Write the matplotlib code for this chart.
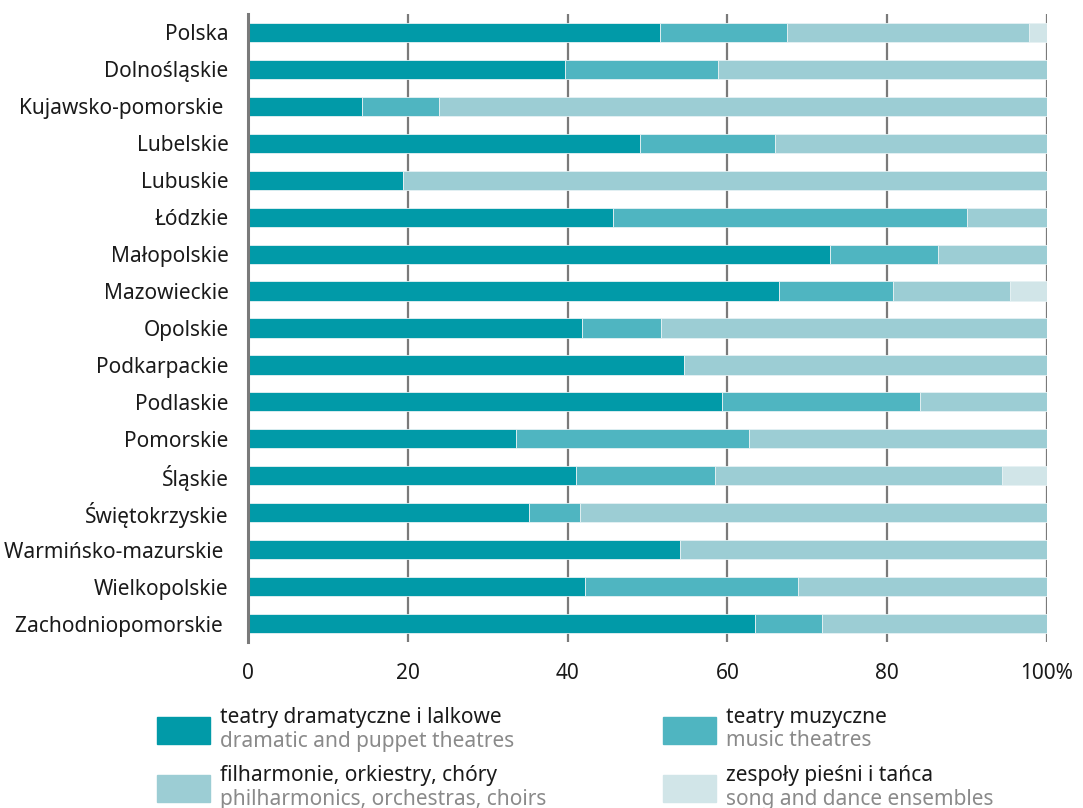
import matplotlib
matplotlib.use("Agg")
import matplotlib.pyplot as plt
from matplotlib.patches import Rectangle
import numpy as np

plt.rcParams['font.family'] = ['Noto Sans', 'DejaVu Sans']

regions = ["Polska", "Dolnośląskie", "Kujawsko-pomorskie ", "Lubelskie", "Lubuskie",
           "Łódzkie", "Małopolskie", "Mazowieckie", "Opolskie", "Podkarpackie",
           "Podlaskie", "Pomorskie", "Śląskie", "Świętokrzyskie",
           "Warmińsko-mazurskie ", "Wielkopolskie", "Zachodniopomorskie "]

dramatic = [51.6, 39.7, 14.3, 49.1, 19.4, 45.7, 72.8, 66.5, 41.8, 54.6,
            59.3, 33.5, 41.1, 35.2, 54.1, 42.2, 63.5]
music = [15.9, 19.1, 9.6, 16.9, 0.0, 44.3, 13.6, 14.2, 9.9, 0.0,
         24.8, 29.2, 17.3, 6.4, 0.0, 26.6, 8.3]
song = [2.3, 0.0, 0.0, 0.0, 0.0, 0.0, 0.0, 4.6, 0.0, 0.0,
        0.0, 0.0, 5.6, 0.0, 0.0, 0.0, 0.0]
philharmonic = [round(100 - d - m - s, 1) for d, m, s in zip(dramatic, music, song)]

series_pl = ["teatry dramatyczne i lalkowe", "teatry muzyczne",
             "filharmonie, orkiestry, chóry", "zespoły pieśni i tańca"]
series_en = ["dramatic and puppet theatres", "music theatres",
             "philharmonics, orchestras, choirs", "song and dance ensembles"]
colors = ["#019aa8", "#4fb5c1", "#9ccdd4", "#d1e5e8"]

xticks = [0, 20, 40, 60, 80, 100]
xtick_labels = ["0", "20", "40", "60", "80", "100%"]

FS = 15
fig = plt.figure(figsize=(10.83, 8.08), dpi=100)
ax = fig.add_axes([248 / 1083, 1 - 642 / 808, 799 / 1083, 628 / 808])

y = np.arange(len(regions))
left = np.zeros(len(regions))
for vals, col in zip([dramatic, music, philharmonic, song], colors):
    v = np.array(vals)
    ax.barh(y, v, left=left, height=0.52, color=col, edgecolor="#e6f2f4",
            linewidth=0.6, zorder=3)
    left += v

ax.set_ylim(len(regions) - 0.5, -0.5)
ax.set_xlim(0, 100)
ax.set_yticks(y)
ax.set_yticklabels(regions, fontsize=FS, color="#1a1a1a")
ax.set_xticks(xticks)
ax.set_xticklabels(xtick_labels, fontsize=FS, color="#1a1a1a")
ax.tick_params(axis="y", length=0, pad=14)
ax.tick_params(axis="x", length=0, pad=15)

for xv in xticks[1:]:
    ax.axvline(xv, color="#7a7a7a", linewidth=1.6, zorder=1)

for side in ["top", "right", "bottom"]:
    ax.spines[side].set_visible(False)
ax.spines["left"].set_color("#7a7a7a")
ax.spines["left"].set_linewidth(2.2)
ax.spines["left"].set_zorder(4)

# Legend built from patches and two-line labels
positions = [(157, 717), (663, 717), (157, 775), (663, 775)]
W, H = 1083, 808
for (px, py), col, pl, en in zip(positions, colors, series_pl, series_en):
    fig.patches.append(Rectangle((px / W, 1 - (py + 27) / H), 53 / W, 27 / H,
                                 transform=fig.transFigure, color=col))
    fig.text((px + 63) / W, 1 - (py + 1) / H, pl, fontsize=FS, color="#1a1a1a",
             ha="left", va="center")
    fig.text((px + 63) / W, 1 - (py + 24) / H, en, fontsize=FS, color="#8a8a8a",
             ha="left", va="center")

fig.savefig("out.png", dpi=100)
